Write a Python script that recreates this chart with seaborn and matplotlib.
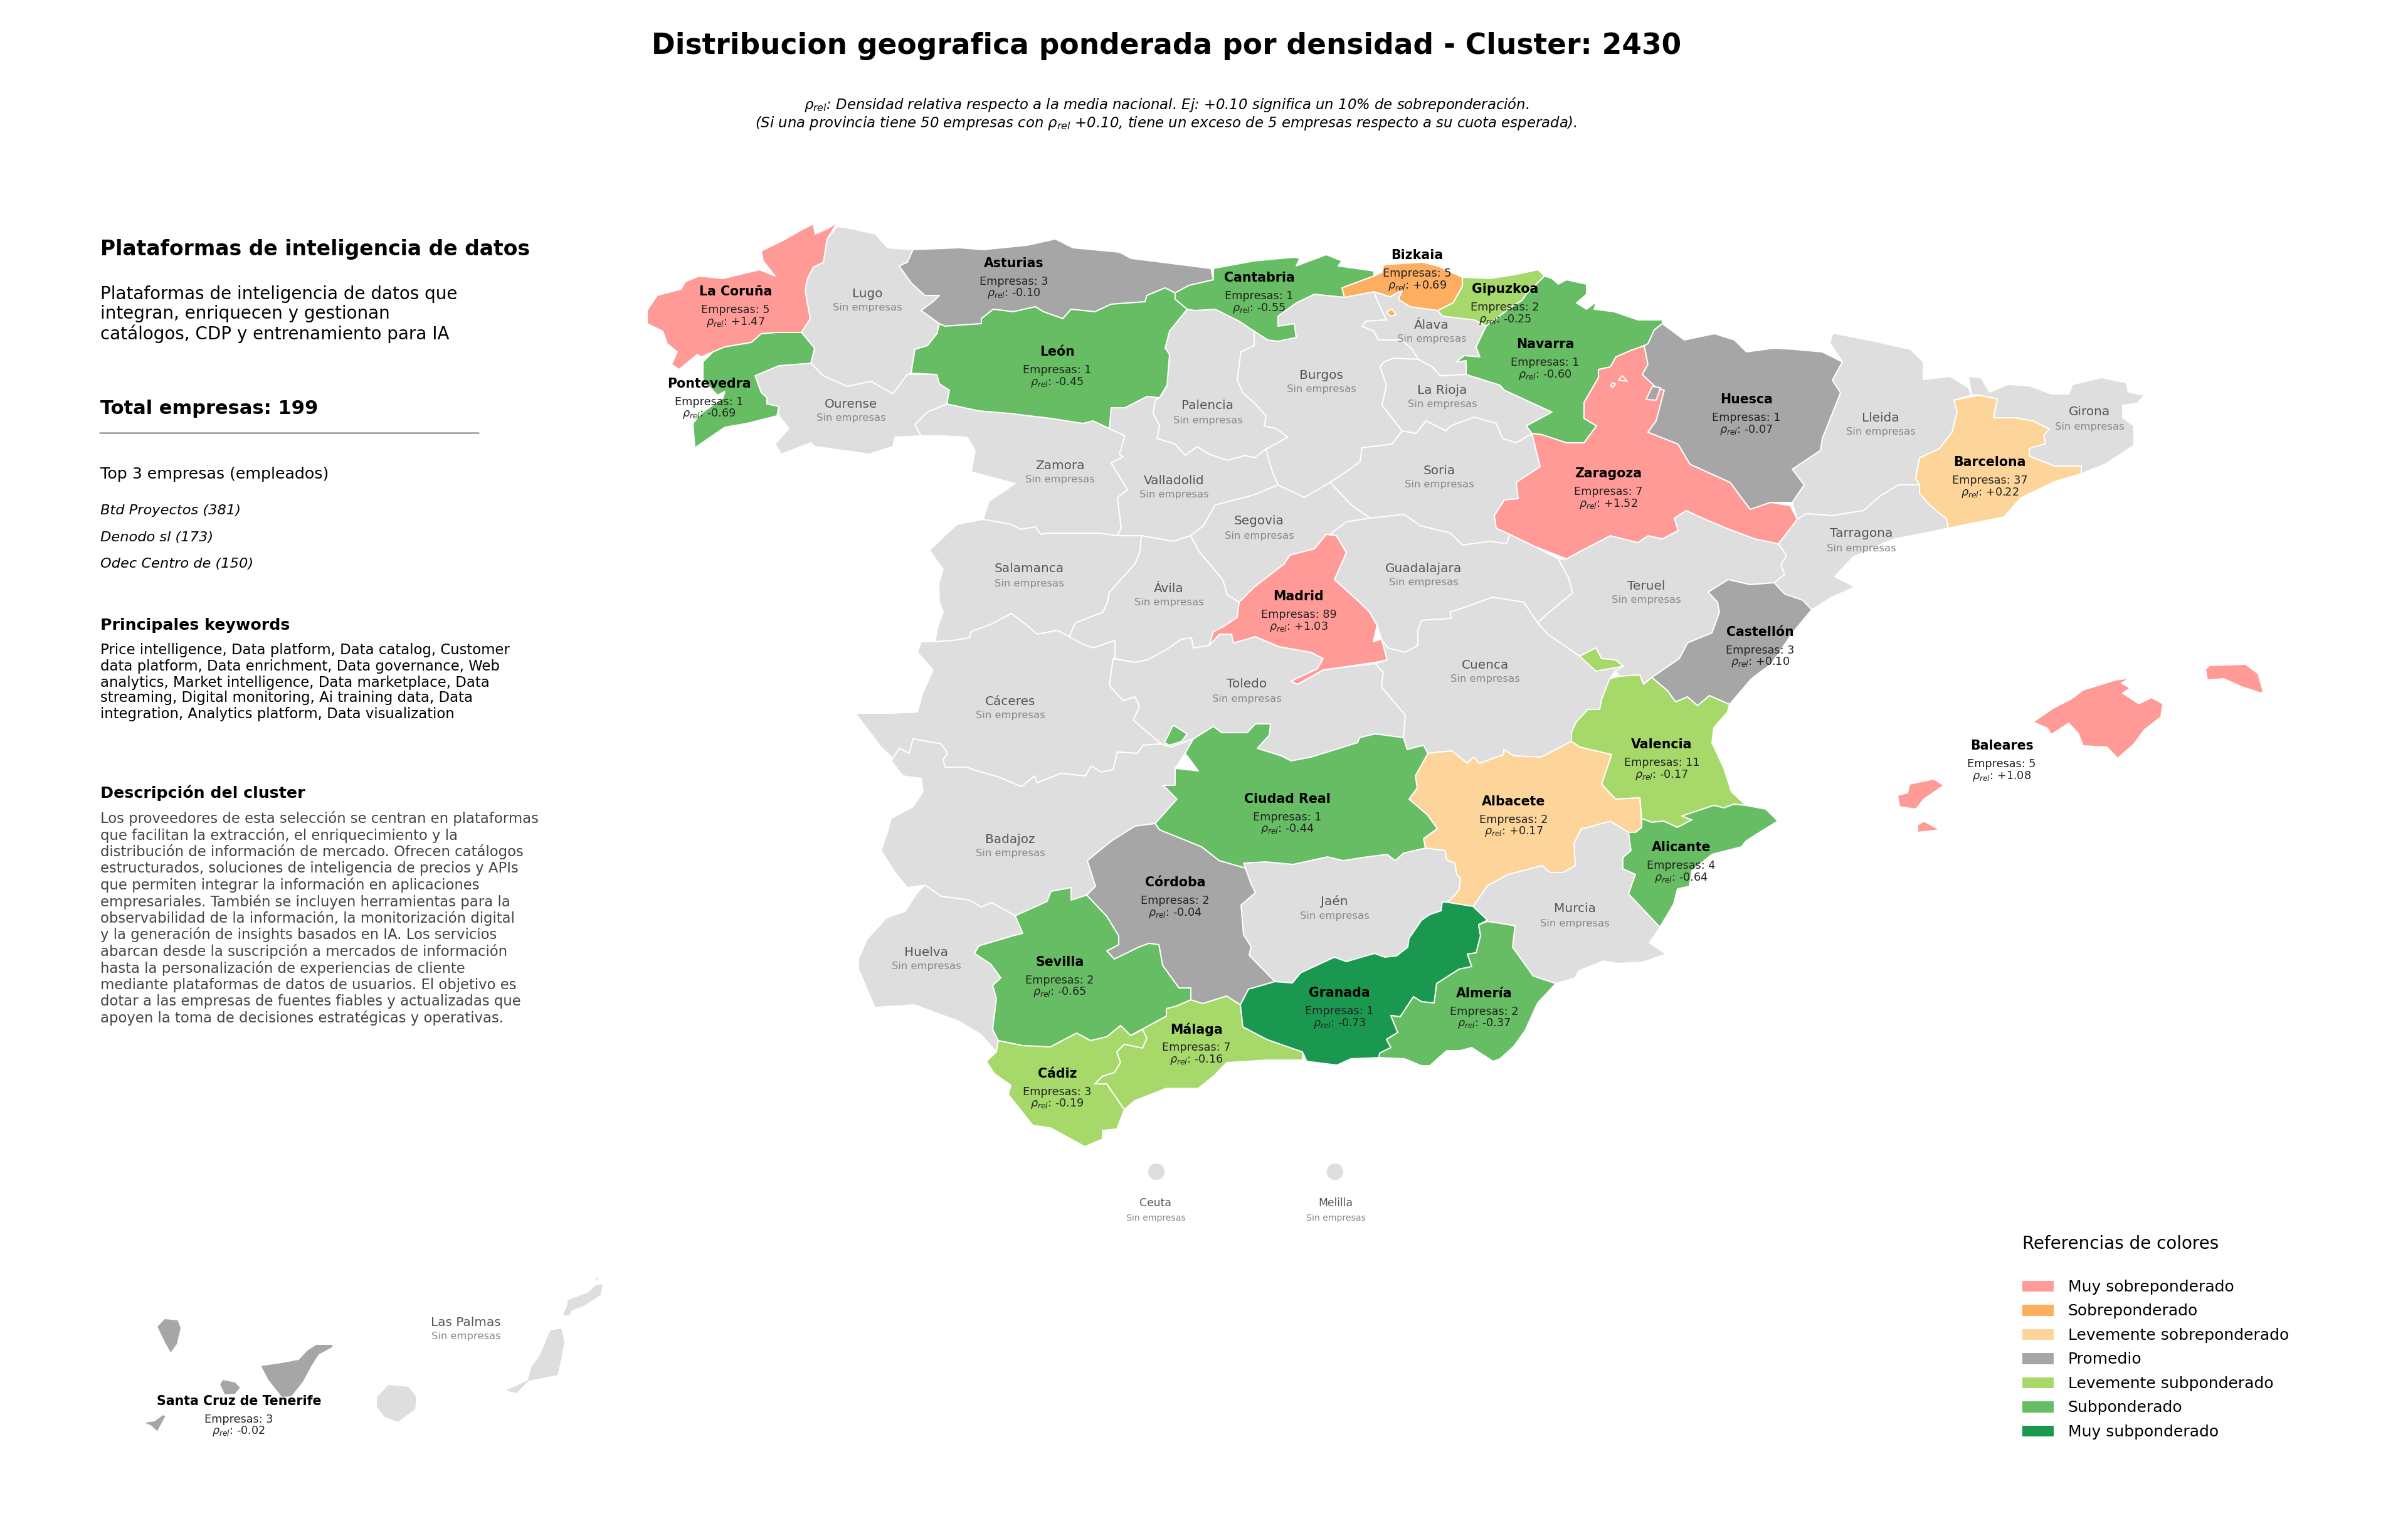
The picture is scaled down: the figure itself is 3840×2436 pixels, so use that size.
import numpy as np
import pandas as pd
import matplotlib
matplotlib.use("Agg")
import matplotlib.pyplot as plt
from matplotlib.patches import Patch
import seaborn as sns

# ==================== DATOS ====================
TITULO = "Distribucion geografica ponderada por densidad - Cluster: 2430"
SUB_1 = r"$\rho_{rel}$: Densidad relativa respecto a la media nacional. Ej: +0.10 significa un 10% de sobreponderación."
SUB_2 = r"(Si una provincia tiene 50 empresas con $\rho_{rel}$ +0.10, tiene un exceso de 5 empresas respecto a su cuota esperada)."

CATEGORIAS = ["Muy sobreponderado", "Sobreponderado", "Levemente sobreponderado", "Promedio",
              "Levemente subponderado", "Subponderado", "Muy subponderado"]
COLORES = ["#ff9a96", "#fdae61", "#fdd49a", "#a6a6a6", "#a6d96a", "#66bd63", "#1a9850"]
GRIS = "#dedede"

# provincias con empresas
NOMBRES = ["La Coruña", "Asturias", "Cantabria", "Bizkaia", "Gipuzkoa", "Navarra", "Zaragoza", "Huesca",
           "Barcelona", "León", "Pontevedra", "Madrid", "Castellón", "Valencia", "Alicante", "Albacete",
           "Ciudad Real", "Córdoba", "Sevilla", "Cádiz", "Málaga", "Granada", "Almería", "Baleares",
           "Santa Cruz de Tenerife"]
EMPRESAS = [5, 3, 1, 5, 2, 1, 7, 1, 37, 1, 1, 89, 3, 11, 4, 2, 1, 2, 2, 3, 7, 1, 2, 5, 3]
RHO = [1.47, -0.10, -0.55, 0.69, -0.25, -0.60, 1.52, -0.07, 0.22, -0.45, -0.69, 1.03, 0.10, -0.17, -0.64,
       0.17, -0.44, -0.04, -0.65, -0.19, -0.16, -0.73, -0.37, 1.08, -0.02]
SIN_EMPRESAS = ["Lugo", "Ourense", "Zamora", "Palencia", "Valladolid", "Salamanca", "Ávila", "Segovia", "Burgos",
                "Álava", "La Rioja", "Soria", "Guadalajara", "Teruel", "Lleida", "Girona", "Tarragona", "Toledo",
                "Cáceres", "Cuenca", "Badajoz", "Jaén", "Murcia", "Huelva", "Las Palmas", "Ceuta", "Melilla"]

# contornos
CONTORNOS = {
    "La Coruña": [[(1335,355),(1319,381),(1313,418),(1297,426),(1287,446),(1284,463),(1292,508),(1278,530),(1239,530),(1214,532),(1198,546),(1156,553),(1137,561),(1118,569),(1112,565),(1083,589),(1071,581),(1080,561),(1064,548),(1057,528),(1032,516),(1032,495),(1048,471),(1086,461),(1093,449),(1115,440),(1153,444),(1211,430),(1236,440),(1217,416),(1214,400),(1249,383),(1281,365),(1297,357),(1300,373),(1319,365)]],
    "Pontevedra": [[(1278,530),(1299,555),(1293,579),(1242,583),(1204,599),(1214,626),(1223,634),(1223,644),(1242,648),(1239,663),(1191,675),(1156,681),(1108,714),(1105,675),(1118,659),(1153,634),(1156,624),(1144,630),(1121,606),(1121,577),(1137,561),(1156,553),(1198,546),(1214,532),(1239,530)]],
    "Ourense": [[(1204,599),(1242,583),(1293,579),(1313,599),(1351,616),(1389,608),(1424,628),(1447,597),(1494,597),(1498,612),(1514,622),(1510,644),(1479,657),(1459,677),(1469,695),(1427,697),(1424,712),(1386,724),(1300,712),(1293,706),(1246,724),(1236,708),(1258,683),(1242,663),(1242,648),(1223,644),(1223,634),(1214,626)]],
    "Lugo": [[(1335,361),(1360,365),(1396,373),(1415,395),(1456,398),(1447,418),(1434,424),(1453,451),(1475,471),(1498,471),(1488,481),(1469,495),(1498,516),(1494,532),(1479,551),(1459,557),(1453,595),(1447,597),(1424,628),(1389,608),(1351,616),(1313,599),(1293,579),(1299,555),(1278,530),(1292,508),(1284,463),(1287,446),(1297,426),(1313,418),(1319,381)]],
    "Asturias": [[(1456,398),(1530,395),(1568,398),(1638,391),(1683,381),(1711,395),(1785,402),(1804,412),(1931,428),(1935,446),(1896,455),(1874,467),(1858,459),(1829,471),(1826,481),(1772,485),(1746,497),(1708,493),(1695,508),(1664,497),(1651,489),(1616,497),(1584,493),(1565,508),(1565,516),(1507,520),(1498,516),(1469,495),(1488,481),(1498,471),(1475,471),(1453,451),(1434,424),(1447,418)]],
    "León": [[(1498,516),(1507,520),(1565,516),(1565,508),(1584,493),(1616,497),(1651,489),(1664,497),(1695,508),(1708,493),(1746,497),(1772,485),(1826,481),(1829,471),(1858,459),(1874,467),(1874,477),(1893,493),(1865,528),(1858,555),(1865,565),(1861,614),(1849,634),(1829,632),(1794,650),(1772,650),(1769,683),(1743,671),(1727,675),(1676,667),(1609,659),(1561,655),(1510,644),(1514,622),(1498,612),(1494,597),(1453,595),(1459,557),(1479,551),(1494,532)]],
    "Zamora": [[(1510,644),(1561,655),(1609,659),(1676,667),(1727,675),(1743,671),(1769,683),(1794,695),(1785,724),(1791,728),(1772,738),(1798,781),(1782,793),(1788,842),(1782,854),(1753,850),(1670,850),(1660,852),(1651,840),(1628,844),(1612,836),(1568,828),(1577,799),(1619,771),(1574,759),(1549,752),(1555,718),(1542,697),(1504,695),(1469,695),(1459,677),(1479,657)]],
    "Palencia": [[(1865,528),(1893,493),(1906,495),(1938,493),(1976,512),(2000,528),(2000,551),(1979,561),(1973,606),(1982,626),(2000,642),(2019,663),(2016,679),(2035,683),(2054,697),(2019,716),(2000,730),(1986,726),(1957,734),(1928,724),(1909,712),(1890,726),(1874,708),(1845,699),(1849,679),(1839,659),(1842,638),(1849,634),(1861,614),(1865,565),(1858,555)]],
    "Valladolid": [[(1769,683),(1772,650),(1794,650),(1829,632),(1849,634),(1842,638),(1839,659),(1849,679),(1845,699),(1874,708),(1890,726),(1909,712),(1928,724),(1957,734),(1986,726),(2000,730),(2019,716),(2029,752),(2038,773),(2000,789),(1938,805),(1919,838),(1899,854),(1871,863),(1820,854),(1782,854),(1788,842),(1782,793),(1798,781),(1772,738),(1791,728),(1785,724),(1794,695)]],
    "Salamanca": [[(1568,828),(1612,836),(1628,844),(1651,840),(1660,852),(1670,850),(1753,850),(1782,854),(1820,854),(1818,879),(1810,899),(1769,944),(1766,960),(1759,976),(1715,993),(1705,1015),(1686,1005),(1654,1011),(1635,995),(1613,978),(1581,995),(1549,1007),(1546,1017),(1520,1021),(1491,1023),(1495,1001),(1504,976),(1498,960),(1497,930),(1504,908),(1482,877),(1526,836)]],
    "Ávila": [[(1820,854),(1871,863),(1899,854),(1912,879),(1950,924),(1957,948),(1976,960),(1973,984),(1951,999),(1935,1007),(1928,1029),(1903,1033),(1900,1017),(1884,1019),(1861,1035),(1830,1052),(1810,1056),(1778,1050),(1778,1021),(1743,1033),(1727,1027),(1705,1015),(1715,993),(1759,976),(1766,960),(1769,944),(1810,899),(1818,879)]],
    "Segovia": [[(1899,854),(1919,838),(1938,805),(2000,789),(2038,773),(2080,793),(2121,769),(2156,806),(2185,826),(2147,832),(2121,852),(2115,852),(2096,875),(2057,885),(2048,899),(2000,936),(1976,960),(1957,948),(1950,924),(1912,879)]],
    "Cantabria": [[(1935,428),(2000,416),(2064,410),(2073,412),(2067,424),(2115,406),(2140,416),(2134,424),(2191,432),(2191,440),(2140,459),(2144,474),(2096,469),(2067,483),(2038,504),(2038,520),(2064,516),(2067,538),(2038,544),(2022,542),(2000,528),(1976,512),(1938,493),(1906,495),(1893,493),(1874,477),(1874,467),(1896,455),(1935,446)]],
    "Bizkaia": [[(2140,459),(2191,440),(2204,434),(2207,422),(2268,418),(2293,424),(2332,442),(2332,457),(2317,483),(2293,495),(2249,489),(2230,477),(2236,463),(2217,473),(2191,465),(2144,474)],
                [(2211,497),(2220,493),(2226,502),(2217,504)]],
    "Gipuzkoa": [[(2332,442),(2376,444),(2415,438),(2453,430),(2463,440),(2434,469),(2427,479),(2408,491),(2370,520),(2351,510),(2300,504),(2293,495),(2317,483),(2332,457)]],
    "Álava": [[(2191,465),(2217,473),(2236,463),(2230,477),(2249,489),(2293,495),(2300,504),(2351,510),(2370,520),(2354,553),(2360,569),(2335,567),(2338,575),(2338,597),(2297,599),(2284,585),(2262,573),(2252,557),(2236,542),(2198,542),(2191,528),(2172,520),(2179,512),(2211,510),(2198,483)]],
    "Burgos": [[(2000,528),(2022,542),(2038,544),(2067,538),(2064,516),(2038,520),(2038,504),(2067,483),(2096,469),(2144,474),(2191,465),(2198,483),(2211,510),(2179,512),(2172,520),(2191,528),(2198,542),(2236,542),(2252,557),(2262,573),(2223,571),(2207,577),(2201,585),(2211,614),(2204,646),(2236,687),(2220,708),(2172,714),(2169,736),(2147,752),(2121,769),(2080,793),(2038,773),(2029,752),(2019,716),(2054,697),(2035,683),(2016,679),(2019,663),(2000,642),(1982,626),(1973,606),(1979,561),(2000,551)]],
    "La Rioja": [[(2201,585),(2207,577),(2223,571),(2262,573),(2284,585),(2297,599),(2338,597),(2392,614),(2399,622),(2475,657),(2434,679),(2443,691),(2418,706),(2396,699),(2386,675),(2351,665),(2313,679),(2306,687),(2274,671),(2258,691),(2236,687),(2204,646),(2211,614)]],
    "Soria": [[(2121,769),(2147,752),(2169,736),(2172,714),(2220,708),(2236,687),(2258,691),(2274,671),(2306,687),(2313,679),(2351,665),(2386,675),(2396,699),(2418,706),(2443,691),(2456,744),(2418,769),(2421,795),(2399,797),(2383,822),(2386,842),(2408,852),(2402,867),(2376,863),(2332,869),(2313,850),(2265,838),(2239,820),(2185,826),(2156,806)]],
    "Navarra": [[(2434,469),(2463,440),(2475,444),(2485,453),(2498,446),(2530,453),(2530,469),(2514,483),(2530,493),(2546,481),(2542,493),(2574,497),(2612,510),(2651,510),(2651,516),(2638,526),(2628,548),(2622,551),(2600,559),(2577,569),(2568,585),(2549,589),(2549,602),(2526,642),(2526,667),(2546,679),(2526,706),(2498,706),(2459,693),(2443,691),(2434,679),(2475,657),(2399,622),(2392,614),(2338,597),(2338,575),(2322,577),(2335,567),(2360,569),(2354,553),(2370,520),(2408,491),(2427,479)]],
    "Zaragoza": [[(2622,551),(2628,581),(2619,597),(2635,612),(2641,618),(2654,622),(2641,671),(2628,689),(2676,708),(2695,740),(2759,769),(2791,812),(2823,801),(2855,806),(2866,828),(2836,867),(2798,859),(2753,842),(2715,826),(2689,814),(2670,826),(2676,846),(2651,859),(2628,854),(2612,865),(2568,854),(2520,879),(2498,891),(2447,871),(2408,852),(2386,842),(2383,822),(2399,797),(2421,795),(2418,769),(2456,744),(2443,691),(2459,693),(2498,706),(2526,706),(2546,679),(2526,667),(2526,642),(2549,602),(2549,589),(2568,585),(2577,569),(2600,559)],
                 [(2581,606),(2587,599),(2595,608)],
                 [(2568,615),(2572,610),(2576,612),(2572,618)]],
    "Huesca": [[(2651,516),(2686,542),(2734,532),(2766,542),(2785,561),(2829,555),(2861,557),(2906,561),(2938,577),(2922,606),(2935,626),(2906,699),(2903,718),(2858,748),(2877,773),(2858,801),(2823,801),(2791,812),(2759,769),(2695,740),(2676,708),(2628,689),(2641,671),(2654,622),(2641,618),(2635,612),(2619,597),(2628,581),(2622,551),(2628,548),(2638,526)],
               [(2635,616),(2625,637),(2641,638),(2648,618)]],
    "Lleida": [[(2923,531),(2989,544),(3047,557),(3067,577),(3067,605),(3110,600),(3139,618),(3144,630),(3116,638),(3121,656),(3113,689),(3093,715),(3061,730),(3055,763),(3061,773),(3027,773),(2998,791),(2972,814),(2921,822),(2880,819),(2866,828),(2858,801),(2877,773),(2858,748),(2903,718),(2906,699),(2935,626),(2922,606),(2938,577),(2918,546)]],
    "Barcelona": [[(3116,638),(3156,630),(3185,636),(3179,666),(3213,666),(3242,671),(3268,684),(3259,694),(3262,707),(3236,715),(3236,727),(3276,743),(3319,743),(3319,755),(3276,768),(3222,794),(3196,824),(3107,842),(3104,827),(3076,804),(3061,786),(3061,773),(3055,763),(3061,730),(3093,715),(3113,689),(3121,656)]],
    "Girona": [[(3144,630),(3139,600),(3159,602),(3173,625),(3202,613),(3236,615),(3271,628),(3299,628),(3305,613),(3351,602),(3391,610),(3394,625),(3420,630),(3408,643),(3385,646),(3385,666),(3403,679),(3403,710),(3357,740),(3319,755),(3319,743),(3276,743),(3236,727),(3236,715),(3262,707),(3259,694),(3268,684),(3242,671),(3213,666),(3179,666),(3185,636),(3156,630)]],
    "Tarragona": [[(2866,828),(2880,819),(2921,822),(2972,814),(2998,791),(3027,773),(3061,773),(3061,786),(3076,804),(3104,827),(3107,842),(3058,852),(3018,860),(2955,888),(2926,919),(2958,936),(2921,952),(2889,972),(2846,947),(2829,929),(2846,916),(2840,901),(2849,885),(2836,867)]],
    "Teruel": [[(2498,891),(2520,879),(2568,854),(2612,865),(2628,854),(2651,859),(2676,846),(2670,826),(2689,814),(2715,826),(2753,842),(2798,859),(2836,867),(2849,885),(2840,901),(2846,916),(2829,929),(2791,932),(2756,924),(2724,944),(2739,960),(2742,976),(2730,1009),(2691,1025),(2678,1050),(2640,1076),(2634,1080),(2621,1091),(2615,1076),(2583,1078),(2576,1070),(2589,1062),(2576,1052),(2554,1050),(2545,1033),(2519,1046),(2500,1033),(2468,1011),(2452,993),(2468,978),(2490,960),(2508,945),(2501,920),(2485,891)]],
    "Castellón": [[(2739,960),(2724,944),(2756,924),(2791,932),(2829,929),(2846,947),(2875,957),(2889,972),(2860,1007),(2825,1058),(2793,1082),(2758,1123),(2726,1109),(2707,1125),(2691,1111),(2672,1119),(2659,1101),(2634,1080),(2640,1076),(2678,1050),(2691,1025),(2730,1009),(2742,976)]],
    "Guadalajara": [[(2115,852),(2121,852),(2147,832),(2185,826),(2239,820),(2265,838),(2313,850),(2332,869),(2376,863),(2402,867),(2408,852),(2447,871),(2485,891),(2501,920),(2508,945),(2490,960),(2468,978),(2452,993),(2430,960),(2380,952),(2337,968),(2312,976),(2315,986),(2267,989),(2261,1005),(2261,1029),(2241,1040),(2213,1033),(2203,1019),(2196,997),(2184,976),(2168,960),(2128,924),(2147,881),(2131,854)]],
    "Madrid": [[(2115,852),(2131,854),(2147,881),(2128,924),(2168,960),(2184,976),(2196,997),(2190,1023),(2203,1019),(2212,1052),(2193,1056),(2110,1068),(2069,1091),(2059,1086),(2101,1066),(2110,1050),(2091,1040),(2040,1031),(2002,1015),(1967,1025),(1964,1011),(1945,1011),(1928,1029),(1935,1007),(1951,999),(1973,984),(1976,960),(2000,936),(2048,899),(2057,885),(2096,875)]],
    "Cuenca": [[(2203,1019),(2213,1033),(2241,1040),(2261,1029),(2261,1005),(2267,989),(2315,986),(2312,976),(2337,968),(2380,952),(2430,960),(2452,993),(2468,1011),(2500,1033),(2519,1046),(2545,1033),(2554,1050),(2576,1052),(2589,1062),(2576,1070),(2567,1082),(2554,1115),(2551,1131),(2532,1131),(2513,1152),(2506,1168),(2506,1182),(2458,1207),(2414,1205),(2398,1195),(2398,1203),(2359,1217),(2350,1207),(2340,1217),(2315,1197),(2277,1201),(2270,1188),(2244,1195),(2238,1176),(2241,1140),(2203,1095),(2206,1072),(2193,1058),(2212,1052)]],
    "Toledo": [[(1775,1050),(1810,1056),(1830,1052),(1861,1035),(1884,1019),(1900,1017),(1903,1033),(1928,1029),(1945,1011),(1964,1011),(1967,1025),(2002,1015),(2040,1031),(2091,1040),(2110,1050),(2101,1066),(2059,1086),(2069,1091),(2110,1068),(2193,1058),(2206,1072),(2203,1095),(2241,1140),(2238,1176),(2193,1170),(2168,1176),(2165,1184),(2136,1193),(2091,1207),(2059,1213),(2043,1205),(2005,1193),(2024,1172),(2026,1154),(2002,1154),(1989,1168),(1948,1168),(1935,1158),(1903,1178),(1868,1191),(1852,1186),(1807,1148),(1817,1127),(1810,1111),(1791,1117),(1769,1093)]],
    "Cáceres": [[(1491,1023),(1520,1021),(1546,1017),(1549,1007),(1581,995),(1613,978),(1635,995),(1654,1011),(1686,1005),(1705,1015),(1727,1027),(1743,1033),(1778,1021),(1778,1050),(1775,1050),(1769,1093),(1791,1117),(1810,1111),(1817,1127),(1807,1148),(1852,1186),(1823,1188),(1814,1201),(1782,1199),(1775,1227),(1756,1231),(1740,1221),(1731,1237),(1692,1233),(1654,1248),(1650,1237),(1629,1254),(1593,1239),(1552,1227),(1542,1223),(1507,1223),(1504,1211),(1511,1201),(1501,1186),(1456,1178),(1450,1201),(1434,1193),(1424,1209),(1405,1191),(1364,1137),(1421,1137),(1463,1135),(1472,1103),(1488,1068),(1463,1040),(1469,1023)]],
    "Badajoz": [[(1424,1209),(1434,1193),(1450,1201),(1456,1178),(1501,1186),(1511,1201),(1504,1211),(1507,1223),(1542,1223),(1552,1227),(1593,1239),(1629,1254),(1650,1237),(1654,1248),(1692,1233),(1731,1237),(1740,1221),(1756,1231),(1775,1227),(1782,1199),(1814,1201),(1823,1188),(1852,1186),(1868,1191),(1903,1178),(1890,1201),(1874,1225),(1874,1252),(1855,1252),(1877,1274),(1842,1313),(1810,1317),(1772,1341),(1734,1372),(1747,1413),(1733,1427),(1708,1435),(1708,1415),(1676,1421),(1670,1437),(1619,1460),(1581,1439),(1565,1446),(1546,1435),(1501,1429),(1475,1411),(1447,1415),(1428,1392),(1405,1356),(1415,1327),(1421,1305),(1456,1286),(1472,1262),(1469,1241),(1440,1237),(1421,1213)]],
    "Ciudad Real": [[(1903,1178),(1935,1158),(1948,1168),(1989,1168),(2002,1154),(2026,1154),(2024,1172),(2005,1193),(2043,1205),(2059,1213),(2091,1207),(2136,1193),(2165,1184),(2168,1176),(2193,1170),(2238,1176),(2244,1195),(2270,1188),(2277,1201),(2257,1237),(2260,1256),(2247,1274),(2276,1299),(2292,1321),(2270,1337),(2273,1352),(2238,1360),(2225,1372),(2212,1362),(2180,1366),(2142,1372),(2117,1366),(2062,1378),(2018,1374),(1983,1376),(1986,1384),(1944,1372),(1916,1350),(1849,1323),(1842,1313),(1877,1274),(1855,1252),(1874,1252),(1874,1225),(1911,1229),(1890,1201)],
                    [(1871,1156),(1893,1170),(1884,1182),(1865,1188),(1857,1184)]],
    "Córdoba": [[(1842,1313),(1849,1323),(1916,1350),(1944,1372),(1986,1384),(1995,1409),(2002,1423),(1979,1443),(1983,1490),(1995,1509),(1992,1523),(2033,1565),(1991,1577),(1978,1602),(1956,1588),(1918,1600),(1899,1594),(1899,1575),(1880,1575),(1854,1539),(1848,1506),(1832,1504),(1816,1510),(1777,1529),(1765,1516),(1784,1506),(1784,1492),(1765,1461),(1733,1427),(1747,1413),(1734,1372),(1772,1341),(1810,1317)]],
    "Jaén": [[(1986,1384),(1983,1376),(2018,1374),(2062,1378),(2117,1366),(2142,1372),(2180,1366),(2212,1362),(2225,1372),(2238,1360),(2273,1352),(2305,1356),(2307,1371),(2320,1376),(2323,1394),(2329,1400),(2327,1418),(2312,1436),(2300,1438),(2298,1452),(2280,1458),(2267,1467),(2247,1496),(2245,1510),(2227,1524),(2208,1526),(2192,1520),(2147,1533),(2128,1526),(2074,1551),(2061,1567),(2033,1565),(1992,1523),(1995,1509),(1983,1490),(1979,1443),(2002,1423),(1995,1409)]],
    "Sevilla": [[(1733,1427),(1765,1461),(1784,1492),(1784,1506),(1765,1516),(1777,1529),(1816,1510),(1832,1504),(1848,1506),(1854,1539),(1880,1575),(1899,1575),(1899,1594),(1876,1604),(1860,1608),(1860,1620),(1803,1651),(1787,1635),(1765,1653),(1739,1659),(1717,1647),(1675,1669),(1631,1667),(1592,1659),(1583,1641),(1589,1592),(1583,1571),(1596,1559),(1580,1537),(1554,1520),(1561,1508),(1615,1492),(1631,1488),(1619,1460),(1670,1437),(1676,1421),(1708,1415),(1708,1435)]],
    "Huelva": [[(1475,1411),(1501,1429),(1546,1435),(1565,1446),(1581,1439),(1619,1460),(1631,1488),(1615,1492),(1561,1508),(1554,1520),(1580,1537),(1596,1559),(1583,1571),(1589,1592),(1583,1641),(1592,1659),(1589,1677),(1564,1649),(1529,1628),(1458,1602),(1395,1606),(1369,1545),(1369,1529),(1382,1498),(1414,1463),(1443,1453),(1462,1424)]],
    "Cádiz": [[(1592,1659),(1631,1667),(1675,1669),(1717,1647),(1739,1659),(1765,1653),(1787,1635),(1803,1651),(1822,1641),(1829,1655),(1822,1671),(1793,1665),(1781,1677),(1787,1694),(1777,1710),(1758,1716),(1746,1728),(1765,1728),(1793,1769),(1781,1800),(1758,1802),(1758,1816),(1730,1828),(1675,1798),(1647,1794),(1608,1745),(1612,1730),(1586,1712),(1573,1692),(1589,1677)]],
    "Málaga": [[(1899,1594),(1918,1600),(1956,1588),(1978,1602),(1982,1637),(2020,1657),(2077,1677),(2077,1690),(2020,1690),(1956,1694),(1937,1714),(1911,1735),(1860,1735),(1809,1755),(1793,1769),(1765,1728),(1746,1728),(1758,1716),(1777,1710),(1787,1694),(1781,1677),(1793,1665),(1822,1671),(1829,1655),(1822,1641),(1803,1651),(1860,1620),(1860,1608),(1876,1604)]],
    "Granada": [[(2305,1438),(2349,1445),(2372,1467),(2358,1474),(2361,1492),(2354,1519),(2340,1521),(2347,1541),(2327,1545),(2291,1568),(2287,1599),(2267,1597),(2254,1589),(2233,1621),(2218,1619),(2229,1646),(2211,1657),(2218,1670),(2200,1679),(2199,1686),(2154,1688),(2132,1698),(2084,1692),(2077,1677),(2020,1657),(1982,1637),(1978,1602),(1991,1577),(2033,1565),(2061,1567),(2074,1551),(2128,1526),(2147,1533),(2192,1520),(2208,1526),(2227,1524),(2245,1510),(2247,1496),(2267,1467),(2280,1458),(2298,1452),(2300,1438)]],
    "Almería": [[(2372,1469),(2392,1472),(2416,1476),(2412,1510),(2445,1556),(2481,1568),(2452,1599),(2432,1643),(2414,1668),(2392,1688),(2381,1692),(2347,1670),(2329,1675),(2307,1675),(2280,1699),(2267,1699),(2240,1688),(2199,1686),(2200,1679),(2218,1670),(2211,1657),(2229,1646),(2218,1619),(2233,1621),(2254,1589),(2267,1597),(2287,1599),(2291,1568),(2327,1545),(2347,1541),(2340,1521),(2354,1519),(2361,1492),(2358,1474)]],
    "Murcia": [[(2349,1445),(2372,1412),(2405,1394),(2459,1380),(2472,1391),(2492,1391),(2512,1380),(2510,1345),(2521,1322),(2568,1309),(2597,1327),(2601,1356),(2588,1367),(2588,1385),(2608,1394),(2597,1425),(2648,1478),(2630,1503),(2657,1521),(2619,1534),(2579,1536),(2557,1532),(2517,1548),(2512,1559),(2481,1568),(2445,1556),(2412,1510),(2416,1476),(2392,1472),(2372,1469)]],
    "Albacete": [[(2277,1201),(2315,1197),(2340,1217),(2350,1207),(2359,1217),(2398,1203),(2398,1195),(2414,1205),(2458,1207),(2506,1182),(2519,1191),(2570,1203),(2554,1250),(2576,1274),(2615,1272),(2618,1319),(2608,1327),(2597,1327),(2568,1309),(2521,1322),(2510,1345),(2512,1380),(2492,1391),(2472,1391),(2459,1380),(2405,1394),(2372,1412),(2349,1445),(2305,1438),(2312,1436),(2327,1418),(2329,1400),(2323,1394),(2320,1376),(2307,1371),(2305,1356),(2273,1352),(2270,1337),(2292,1321),(2276,1299),(2247,1274),(2260,1256),(2257,1237)]],
    "Valencia": [[(2567,1082),(2583,1078),(2615,1076),(2621,1091),(2634,1080),(2659,1101),(2672,1119),(2691,1111),(2707,1125),(2726,1109),(2758,1123),(2755,1135),(2733,1160),(2730,1184),(2749,1225),(2761,1262),(2784,1284),(2765,1282),(2749,1288),(2733,1284),(2682,1301),(2698,1307),(2675,1319),(2653,1309),(2634,1311),(2618,1305),(2615,1272),(2576,1274),(2554,1250),(2570,1203),(2519,1191),(2506,1182),(2506,1168),(2513,1152),(2532,1131),(2551,1131),(2554,1115)],
                 [(2519,1046),(2545,1033),(2554,1050),(2576,1052),(2589,1062),(2545,1070)]],
    "Alicante": [[(2618,1305),(2634,1311),(2653,1309),(2675,1319),(2698,1307),(2682,1301),(2733,1284),(2749,1288),(2765,1282),(2784,1284),(2816,1290),(2835,1309),(2812,1323),(2784,1341),(2777,1350),(2730,1362),(2698,1388),(2694,1413),(2675,1417),(2669,1441),(2647,1478),(2597,1425),(2608,1394),(2588,1385),(2588,1367),(2601,1356),(2597,1327),(2608,1327),(2618,1319)]],
    "Baleares": [[(3242,1151),(3276,1128),(3302,1115),(3322,1100),(3374,1084),(3397,1081),(3383,1089),(3397,1097),(3385,1105),(3411,1122),(3431,1112),(3449,1122),(3446,1143),(3420,1163),(3403,1186),(3377,1209),(3360,1191),(3322,1189),(3314,1169),(3299,1153),(3271,1171),(3265,1161)],
                 [(3517,1067),(3523,1061),(3581,1059),(3601,1074),(3609,1102),(3606,1105),(3575,1095),(3546,1082),(3520,1084)],
                 [(3026,1268),(3042,1264),(3045,1250),(3084,1242),(3100,1252),(3068,1274),(3055,1290),(3029,1286)],
                 [(3058,1315),(3068,1309),(3093,1323),(3058,1327)],
                 [(3348,1233),(3354,1233),(3352,1236)]],
    "Santa Cruz de Tenerife": [[(250,2115),(262,2102),(284,2104),(289,2117),(283,2143),(272,2158),(262,2140)],
                               [(415,2177),(449,2172),(476,2167),(490,2152),(504,2143),(531,2143),(531,2148),(509,2160),(498,2177),(484,2203),(465,2227),(449,2228),(427,2200)],
                               [(350,2207),(355,2199),(375,2203),(384,2212),(375,2223),(358,2224)],
                               [(227,2268),(246,2265),(260,2255),(265,2257),(251,2283),(240,2273)]],
    "Las Palmas": [[(619,2207),(652,2210),(665,2227),(663,2247),(635,2268),(613,2260),(600,2243),(600,2227)],
                   [(877,2120),(896,2117),(901,2140),(896,2167),(890,2193),(844,2202),(824,2222),(803,2217),(841,2200),(846,2180),(860,2160)],
                   [(896,2098),(904,2080),(904,2072),(937,2060),(951,2047),(962,2047),(959,2065),(931,2083),(912,2090),(909,2098)],
                   [(950,2037),(953,2034),(955,2041),(950,2043)]],
    "Ceuta": [[(1831,1792),(1836,1795),(1833,1797)]],
    "Melilla": [[(2138,1811),(2141,1813),(2139,1817)]],
}

PLAZAS_X = [1844, 2129]
PLAZAS_Y = [1868, 1868]
PLAZAS = ["Ceuta", "Melilla"]

TOP3 = ["Btd Proyectos (381)", "Denodo sl (173)", "Odec Centro de (150)"]
RESUMEN = ["Plataformas de inteligencia de datos que", "integran, enriquecen y gestionan",
           "catálogos, CDP y entrenamiento para IA"]
KEYWORDS = ["Price intelligence, Data platform, Data catalog, Customer",
            "data platform, Data enrichment, Data governance, Web",
            "analytics, Market intelligence, Data marketplace, Data",
            "streaming, Digital monitoring, Ai training data, Data",
            "integration, Analytics platform, Data visualization"]
DESCRIPCION = ["Los proveedores de esta selección se centran en plataformas",
               "que facilitan la extracción, el enriquecimiento y la",
               "distribución de información de mercado. Ofrecen catálogos",
               "estructurados, soluciones de inteligencia de precios y APIs",
               "que permiten integrar la información en aplicaciones",
               "empresariales. También se incluyen herramientas para la",
               "observabilidad de la información, la monitorización digital",
               "y la generación de insights basados en IA. Los servicios",
               "abarcan desde la suscripción a mercados de información",
               "hasta la personalización de experiencias de cliente",
               "mediante plataformas de datos de usuarios. El objetivo es",
               "dotar a las empresas de fuentes fiables y actualizadas que",
               "apoyen la toma de decisiones estratégicas y operativas."]

# centro de cada etiqueta (pixeles de la imagen)
POS_ETIQUETA = {
    "La Coruña": (1173,465), "Lugo": (1383,468), "Asturias": (1617,420), "León": (1686,561), "Pontevedra": (1131,612),
    "Ourense": (1357,644), "Zamora": (1690,742), "Palencia": (1926,647), "Valladolid": (1872,766), "Salamanca": (1641,907),
    "Ávila": (1864,938), "Segovia": (2008,831), "Cantabria": (2008,443), "Bizkaia": (2260,407), "Gipuzkoa": (2400,461),
    "Álava": (2283,518), "Navarra": (2464,549), "Burgos": (2107,598), "La Rioja": (2300,622), "Huesca": (2785,637),
    "Zaragoza": (2565,755), "Soria": (2295,750), "Guadalajara": (2270,906), "Teruel": (2625,934), "Madrid": (2071,951),
    "Lleida": (2999,666), "Girona": (3332,657), "Barcelona": (3173,737), "Tarragona": (2968,851), "Castellón": (2807,1008),
    "Toledo": (1988,1091), "Cáceres": (1611,1118), "Cuenca": (2368,1060), "Ciudad Real": (2053,1274), "Valencia": (2650,1187),
    "Albacete": (2414,1278), "Badajoz": (1611,1338), "Córdoba": (1874,1407), "Alicante": (2681,1351), "Jaén": (2128,1437),
    "Murcia": (2511,1449), "Huelva": (1477,1518), "Sevilla": (1690,1534), "Granada": (2136,1583), "Almería": (2367,1584),
    "Málaga": (1908,1641), "Cádiz": (1686,1712), "Baleares": (3192,1189), "Las Palmas": (743,2108),
    "Santa Cruz de Tenerife": (381,2234), "Ceuta": (1843,1918), "Melilla": (2130,1918),
}


def categoria(rho):
    if rho >= 1.0:
        return 0
    if rho >= 0.5:
        return 1
    if rho > 0.10:
        return 2
    if rho >= -0.10:
        return 3
    if rho > -0.30:
        return 4
    if rho > -0.70:
        return 5
    return 6


# ==================== FIGURA ====================
sns.set_theme(style="white")
plt.rcParams["mathtext.fontset"] = "dejavusans"
plt.rcParams["font.family"] = ["DejaVu Sans"]
plt.rcParams["text.color"] = "black"

fig = plt.figure(figsize=(19.2, 12.18), dpi=200, facecolor="white")
ax = fig.add_axes([0, 0, 1, 1])

df = pd.DataFrame({"nombre": NOMBRES, "empresas": EMPRESAS, "rho": RHO})
df["color"] = [COLORES[categoria(r)] for r in df["rho"]]

# primero las grises para que las de color queden encima
for nombre in SIN_EMPRESAS:
    for parte in CONTORNOS[nombre]:
        xs, ys = zip(*parte)
        ax.fill(xs, ys, facecolor=GRIS, edgecolor="white", linewidth=0.7, joinstyle="round", zorder=2)

for fila in df.itertuples():
    for parte in CONTORNOS[fila.nombre]:
        xs, ys = zip(*parte)
        ax.fill(xs, ys, facecolor=fila.color, edgecolor="white", linewidth=0.7, joinstyle="round", zorder=3)

plazas = pd.DataFrame({"x": PLAZAS_X, "y": PLAZAS_Y})
sns.scatterplot(data=plazas, x="x", y="y", s=90, color=GRIS, edgecolor="none", legend=False, ax=ax, zorder=3)
ax.set_xlim(0, 3840)
ax.set_ylim(2436, 0)
ax.axis("off")

# etiquetas
for fila in df.itertuples():
    x, y = POS_ETIQUETA[fila.nombre]
    ax.text(x, y, fila.nombre, fontsize=7.4, fontweight="bold", ha="center", va="center", color="black", zorder=5)
    ax.text(x, y + 29, f"Empresas: {fila.empresas}", fontsize=6.35, ha="center", va="center", color="#222222", zorder=5)
    ax.text(x, y + 48, rf"$\rho_{{rel}}$: {fila.rho:+.2f}", fontsize=6.35, ha="center", va="center", color="#222222", zorder=5)

for nombre in SIN_EMPRESAS:
    if nombre in PLAZAS:
        continue
    x, y = POS_ETIQUETA[nombre]
    ax.text(x, y, nombre, fontsize=7.2, ha="center", va="center", color="#555555", zorder=5)
    ax.text(x, y + 23, "Sin empresas", fontsize=5.9, ha="center", va="center", color="#888888", zorder=5)

for nombre in PLAZAS:
    x, y = POS_ETIQUETA[nombre]
    ax.text(x, y, nombre, fontsize=6.2, ha="center", va="center", color="#555555", zorder=5)
    ax.text(x, y + 24, "Sin empresas", fontsize=5.05, ha="center", va="center", color="#888888", zorder=5)

# titulo
ax.text(1860, 74, TITULO, fontsize=16.4, fontweight="bold", ha="center", va="center", color="black")
ax.text(1860, 167, SUB_1, fontsize=8.2, style="italic", ha="center", va="center", color="black")
ax.text(1860, 197, SUB_2, fontsize=8.2, style="italic", ha="center", va="center", color="black")

# panel izquierdo
X_PANEL = 160
ax.text(X_PANEL, 397, "Plataformas de inteligencia de datos", fontsize=11.9, fontweight="bold", va="center")
for y, linea in zip([469, 500, 532], RESUMEN):
    ax.text(X_PANEL, y, linea, fontsize=10, va="center")
ax.text(X_PANEL, 652, "Total empresas: 199", fontsize=11, fontweight="bold", va="center")
ax.plot([159, 763], [690, 690], color="#999999", linewidth=0.9)
ax.text(X_PANEL, 756, "Top 3 empresas (empleados)", fontsize=9.1, va="center")
for y, linea in zip([814, 857, 899], TOP3):
    ax.text(X_PANEL, y, linea, fontsize=8.1, style="italic", va="center")
ax.text(X_PANEL, 997, "Principales keywords", fontsize=9.1, fontweight="bold", va="center")
for y, linea in zip([1036, 1062, 1088, 1113, 1139], KEYWORDS):
    ax.text(X_PANEL, y, linea, fontsize=8.2, va="center")
ax.text(X_PANEL, 1264, "Descripción del cluster", fontsize=9.1, fontweight="bold", va="center")
for i, linea in enumerate(DESCRIPCION):
    ax.text(X_PANEL, 1305 + i * 26.5, linea, fontsize=8.2, va="center", color="#444444")

# leyenda
ax.text(3225, 1983, "Referencias de colores", fontsize=10, va="center")
handles = [Patch(facecolor=c, edgecolor="none", label=k) for k, c in zip(CATEGORIAS, COLORES)]
ley = ax.legend(handles=handles, loc="upper left",
                bbox_to_anchor=(3225, 2040), bbox_transform=ax.transData, frameon=False,
                fontsize=9, borderpad=0, borderaxespad=0,
                labelspacing=0.58, handlelength=2.0, handletextpad=0.9)

sns.despine(ax=ax, left=True, bottom=True)
fig.savefig("out.png", dpi=200, facecolor="white")
